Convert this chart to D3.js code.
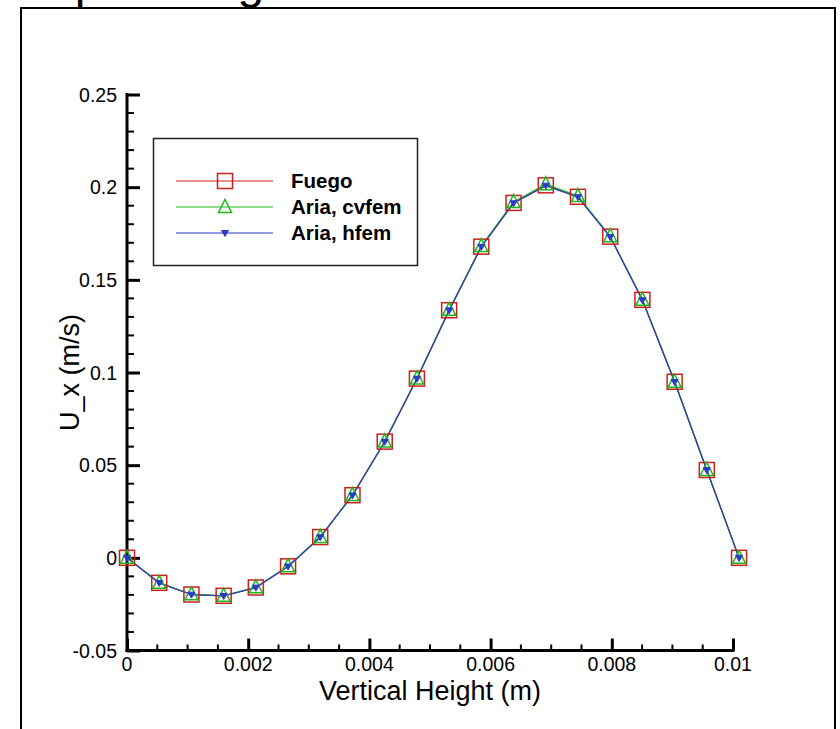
<!DOCTYPE html>
<html><head><meta charset="utf-8">
<script src="https://cdn.jsdelivr.net/npm/d3@7"></script>
<style>html,body{margin:0;padding:0;background:#fff;overflow:hidden}</style>
</head><body>
<svg id="c" width="840" height="729"></svg>
<script>
const xValues = [0, 0.000532, 0.001063, 0.001595, 0.002126, 0.002658, 0.003189, 0.003721, 0.004253, 0.004784, 0.005316, 0.005847, 0.006379, 0.006911, 0.007442, 0.007974, 0.008505, 0.009037, 0.009568, 0.0101];
const fuego = [0, -0.0135, -0.0198, -0.0205, -0.0160, -0.0046, 0.0112, 0.0338, 0.0627, 0.0967, 0.1336, 0.1679, 0.1915, 0.2010, 0.1948, 0.1733, 0.1392, 0.0950, 0.0474, 0];
const ariaCvfem = [0, -0.0135, -0.0197, -0.0204, -0.0159, -0.0045, 0.0113, 0.0339, 0.0628, 0.0968, 0.1338, 0.1682, 0.1920, 0.2016, 0.1952, 0.1735, 0.1393, 0.0950, 0.0474, 0];
const ariaHfem = [0, -0.0136, -0.0199, -0.0206, -0.0161, -0.0047, 0.0111, 0.0337, 0.0626, 0.0966, 0.1335, 0.1678, 0.1913, 0.2008, 0.1946, 0.1731, 0.1390, 0.0949, 0.0473, 0];
const seriesNames = ["Fuego", "Aria, cvfem", "Aria, hfem"];
const seriesColors = ["#c8201e", "#1fb51f", "#2b3ac8"];
const xTicks = [0, 0.002, 0.004, 0.006, 0.008, 0.01];
const xTickLabels = ["0", "0.002", "0.004", "0.006", "0.008", "0.01"];
const yTicks = [-0.05, 0, 0.05, 0.1, 0.15, 0.2, 0.25];
const yTickLabels = ["-0.05", "0", "0.05", "0.1", "0.15", "0.2", "0.25"];
const title = "Upwinding";
const xTitle = "Vertical Height (m)";
const yTitle = "U_x (m/s)";

const svg = d3.select("#c");
const font = "'Liberation Sans', Arial, sans-serif";

// outer frame
svg.append("rect").attr("x", 21).attr("y", 8).attr("width", 814).attr("height", 740)
  .attr("fill", "none").attr("stroke", "#000").attr("stroke-width", 2);
svg.append("text").attr("x", 40).attr("y", -2).attr("font-family", font).attr("font-size", 48)
  .text(title);

const x = d3.scaleLinear().domain([0, 0.01]).range([127, 733]);
const y = d3.scaleLinear().domain([-0.05, 0.25]).range([650.5, 94.5]);

const g = svg.append("g");

// y axis
const yAxis = d3.axisRight(y).tickValues(yTicks).tickSize(13).tickFormat("");
const yAx = g.append("g").attr("transform", `translate(${x(0)},0)`).call(yAxis);
const yMinor = d3.range(-50, 251, 10).map(v => v / 1000).filter(v => !yTicks.some(t => Math.abs(t - v) < 1e-9));
yAx.selectAll(".minor").data(yMinor).enter().append("line").attr("class", "minor")
  .attr("x1", 0).attr("x2", 7).attr("y1", d => y(d)).attr("y2", d => y(d));
yAx.select(".domain").remove();
yAx.append("line").attr("x1", 0).attr("x2", 0).attr("y1", y(-0.05) + 1.5).attr("y2", y(0.25) - 1.5);
yAx.selectAll("line").attr("stroke", "#000").attr("stroke-width", 3);
yAx.selectAll(".minor").attr("stroke-width", 2);

g.selectAll(".ylab").data(yTicks).enter().append("text").attr("class", "ylab")
  .attr("x", 117).attr("y", d => y(d)).attr("dy", "0.36em").attr("text-anchor", "end")
  .attr("font-family", font).attr("font-size", 19.5).text((d, i) => yTickLabels[i]);

// x axis
const xAxis = d3.axisTop(x).tickValues(xTicks).tickSize(12).tickFormat("");
const xAx = g.append("g").attr("transform", `translate(0,${y(-0.05)})`).call(xAxis);
const xMinor = d3.range(0, 101, 5).map(v => v / 10000).filter(v => !xTicks.some(t => Math.abs(t - v) < 1e-9));
xAx.selectAll(".minor").data(xMinor).enter().append("line").attr("class", "minor")
  .attr("y1", 0).attr("y2", -6).attr("x1", d => x(d)).attr("x2", d => x(d));
xAx.select(".domain").remove();
xAx.append("line").attr("y1", 0).attr("y2", 0).attr("x1", x(0) - 1.5).attr("x2", x(0.01) + 1.5);
xAx.selectAll("line").attr("stroke", "#000").attr("stroke-width", 3);
xAx.selectAll(".minor").attr("stroke-width", 2);

g.selectAll(".xlab").data(xTicks).enter().append("text").attr("class", "xlab")
  .attr("x", d => x(d)).attr("y", 664).attr("dy", "0.36em").attr("text-anchor", "middle")
  .attr("font-family", font).attr("font-size", 19.5).text((d, i) => xTickLabels[i]);

// titles
svg.append("text").attr("x", x(0.005)).attr("y", 700).attr("text-anchor", "middle")
  .attr("font-family", font).attr("font-size", 27).text(xTitle);
svg.append("text").attr("transform", `translate(79,${y(0.1)}) rotate(-90)`).attr("text-anchor", "middle")
  .attr("font-family", font).attr("font-size", 27).text(yTitle);

// series
const allSeries = [fuego, ariaCvfem, ariaHfem];
const line = d3.line().x(d => x(d[0])).y(d => y(d[1]));

function marker(sel, k, cx, cy) {
  const c = seriesColors[k];
  if (k === 0) {
    sel.append("rect").attr("x", cx - 7.5).attr("y", cy - 7.5).attr("width", 15).attr("height", 15)
      .attr("fill", "none").attr("stroke", c).attr("stroke-width", 1.5);
  } else if (k === 1) {
    sel.append("path").attr("d", `M${cx},${cy - 7.5}L${cx + 6.5},${cy + 5.5}L${cx - 6.5},${cy + 5.5}Z`)
      .attr("fill", "none").attr("stroke", c).attr("stroke-width", 1.5);
  } else {
    sel.append("path").attr("d", `M${cx - 3.5},${cy - 2.5}L${cx + 3.5},${cy - 2.5}L${cx},${cy + 3.5}Z`)
      .attr("fill", c).attr("stroke", c).attr("stroke-width", 1);
  }
}

allSeries.forEach((vals, k) => {
  const pts = xValues.map((xv, i) => [xv, vals[i]]);
  g.append("path").attr("d", line(pts)).attr("fill", "none")
    .attr("stroke", seriesColors[k]).attr("stroke-width", 1.2);
});
allSeries.forEach((vals, k) => {
  const mg = g.append("g");
  xValues.forEach((xv, i) => marker(mg, k, x(xv), y(vals[i])));
});

// legend
const lg = svg.append("g");
lg.append("rect").attr("x", 153.5).attr("y", 138.5).attr("width", 264).attr("height", 127)
  .attr("fill", "#fff").attr("stroke", "#222").attr("stroke-width", 1.5);
seriesNames.forEach((name, k) => {
  const ry = 181 + k * 26;
  lg.append("line").attr("x1", 176).attr("x2", 273).attr("y1", ry).attr("y2", ry)
    .attr("stroke", seriesColors[k]).attr("stroke-width", 1.2);
  marker(lg, k, 225, ry);
  lg.append("text").attr("x", 291).attr("y", ry).attr("dy", "0.36em")
    .attr("font-family", font).attr("font-size", 20.5).attr("font-weight", "bold").text(name);
});
</script>
</body></html>
